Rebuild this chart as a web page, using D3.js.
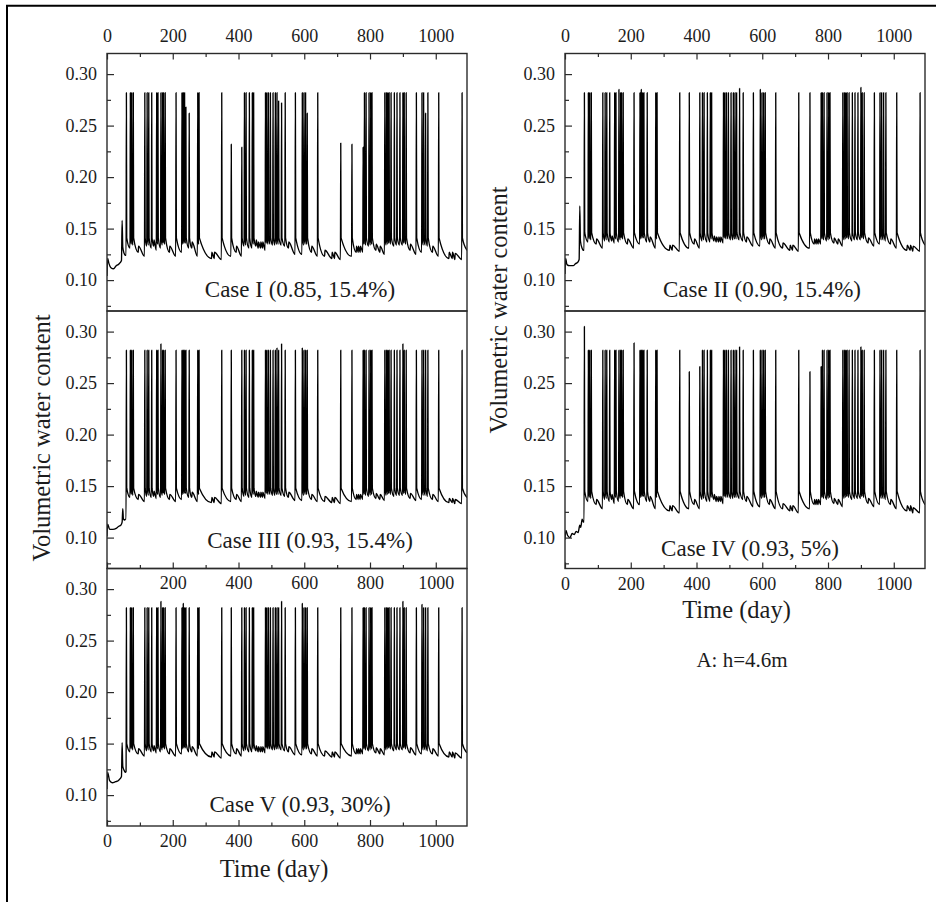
<!DOCTYPE html>
<html>
<head>
<meta charset="utf-8">
<script src="https://cdn.jsdelivr.net/npm/d3@7"></script>
<style>
  body { margin: 0; background: #fff; }
  svg { display: block; font-family: "Liberation Serif", "Times New Roman", Times, serif; }
</style>
</head>
<body>
<svg id="fig" width="936" height="902"></svg>
<script>
// ---- axis ticks -------------------------------------------------------
const xTicks = [0, 200, 400, 600, 800, 1000];
const xMinor = [100, 300, 500, 700, 900];
const xInner = [200, 400, 600, 800, 1000];
const yTicks = [0.10, 0.15, 0.20, 0.25, 0.30];
const yMinor = [0.075, 0.125, 0.175, 0.225, 0.275];

// ---- rainfall-driven response events (day of each wetting event) ------
const eventDays = [
  58, 70, 74, 79, 95, 114, 121, 126, 135, 142,
  150, 154, 163, 168, 171, 176, 190, 209, 227, 231,
  235, 239, 249, 258, 275, 279, 318, 326, 348, 377,
  393, 409, 417, 422, 432, 441, 445, 453, 460, 467,
  473, 481, 485, 490, 496, 504, 511, 516, 521, 530,
  541, 552, 572, 593, 598, 603, 608, 622, 640, 662,
  684, 692, 710, 744, 758, 764, 770, 778, 782, 787,
  796, 801, 805, 818, 830, 844, 849, 853, 857, 863,
  873, 881, 890, 899, 903, 909, 922, 940, 957, 962,
  968, 975, 990, 1008, 1040, 1050, 1058, 1079
];

// ---- Case I (0.85, 15.4%) ---------------------------------------------
const leadI = [[0,0.104],[2,0.121],[6,0.116],[12,0.112],[20,0.111],[28,0.114],[34,0.115],[40,0.117],[44,0.119],[46,0.158],[48,0.132],[52,0.126],[56,0.124]];
const troughI = [
  .124,.131,.135,.134,.127,.123,.133,.134,.131,.133,
  .129,.135,.131,.134,.136,.135,.127,.123,.127,.135,
  .136,.136,.131,.131,.123,.135,.121,.121,.120,.123,
  .127,.123,.133,.134,.131,.131,.135,.133,.131,.131,
  .131,.129,.136,.135,.135,.134,.134,.135,.135,.134,
  .133,.131,.125,.125,.134,.135,.135,.127,.123,.123,
  .121,.121,.120,.123,.127,.127,.127,.127,.135,.134,
  .133,.134,.135,.129,.127,.125,.134,.135,.136,.135,
  .133,.134,.134,.134,.136,.135,.129,.125,.127,.134,
  .134,.133,.127,.123,.121,.121,.120,.120
];
const peakI = [
  .282,.282,.282,.282,.133,.282,.282,.282,.282,.139,
  .282,.282,.282,.282,.282,.282,.133,.282,.282,.282,
  .282,.268,.262,.137,.282,.282,.127,.127,.282,.232,
  .133,.229,.282,.282,.282,.282,.282,.139,.137,.137,
  .137,.282,.282,.282,.282,.282,.282,.282,.274,.272,
  .282,.137,.282,.282,.282,.282,.262,.133,.282,.129,
  .127,.127,.233,.232,.133,.133,.133,.229,.282,.282,
  .282,.282,.282,.135,.133,.282,.282,.282,.282,.282,
  .282,.282,.282,.282,.282,.282,.135,.282,.282,.282,
  .262,.282,.133,.282,.127,.127,.126,.282
];
const shoulderI = 0.141;
const tailI = [1095, 0.129];

// ---- Case II (0.90, 15.4%) --------------------------------------------
const leadII = [[0,0.106],[2,0.121],[6,0.115],[14,0.114],[25,0.114],[32,0.116],[38,0.117],[43,0.120],[45,0.172],[47,0.138],[52,0.131],[56,0.129]];
const troughII = [
  .129,.137,.140,.139,.135,.131,.138,.139,.137,.138,
  .136,.140,.137,.139,.141,.140,.135,.131,.135,.140,
  .141,.141,.137,.137,.131,.140,.129,.129,.128,.131,
  .135,.131,.138,.139,.137,.137,.140,.138,.137,.137,
  .137,.136,.141,.140,.140,.139,.139,.140,.140,.139,
  .138,.137,.133,.133,.139,.140,.140,.135,.131,.131,
  .129,.129,.128,.131,.135,.135,.135,.135,.140,.139,
  .138,.139,.140,.136,.135,.133,.139,.140,.141,.140,
  .138,.139,.139,.139,.141,.140,.136,.133,.135,.139,
  .139,.138,.135,.131,.129,.129,.128,.128
];
const peakII = [
  .282,.282,.282,.282,.140,.282,.282,.282,.282,.143,
  .282,.282,.285,.282,.282,.282,.140,.282,.282,.285,
  .282,.282,.282,.142,.282,.282,.134,.134,.282,.282,
  .140,.282,.282,.282,.282,.282,.282,.143,.142,.142,
  .142,.282,.282,.282,.282,.282,.282,.282,.282,.286,
  .282,.142,.282,.285,.282,.282,.282,.140,.282,.136,
  .134,.134,.282,.282,.140,.140,.140,.282,.282,.282,
  .282,.282,.282,.141,.140,.282,.282,.282,.282,.282,
  .282,.282,.282,.287,.282,.282,.141,.282,.282,.282,
  .282,.282,.140,.282,.134,.134,.133,.282
];
const shoulderII = 0.146;
const tailII = [1095, 0.134];

// ---- Case III (0.93, 15.4%) -------------------------------------------
const leadIII = [[0,0.101],[2,0.113],[8,0.108],[18,0.108],[28,0.109],[36,0.111],[42,0.112],[46,0.115],[48,0.128],[50,0.118],[54,0.117],[56,0.118]];
const troughIII = [
  .118,.139,.142,.141,.137,.135,.140,.141,.139,.140,
  .138,.142,.139,.141,.143,.142,.137,.135,.137,.142,
  .143,.143,.139,.139,.135,.142,.134,.134,.133,.135,
  .137,.135,.140,.141,.139,.139,.142,.140,.139,.139,
  .139,.138,.143,.142,.142,.141,.141,.142,.142,.141,
  .140,.139,.136,.136,.141,.142,.142,.137,.135,.135,
  .134,.134,.133,.135,.137,.137,.137,.137,.142,.141,
  .140,.141,.142,.138,.137,.136,.141,.142,.143,.142,
  .140,.141,.141,.141,.143,.142,.138,.136,.137,.141,
  .141,.140,.137,.135,.134,.134,.133,.133
];
const peakIII = [
  .282,.282,.282,.282,.142,.282,.282,.282,.282,.145,
  .282,.282,.288,.282,.282,.282,.142,.282,.282,.282,
  .282,.282,.282,.144,.282,.282,.139,.139,.282,.282,
  .142,.282,.282,.282,.282,.282,.282,.145,.144,.144,
  .144,.282,.282,.282,.282,.282,.282,.284,.282,.288,
  .282,.144,.282,.284,.282,.282,.282,.142,.282,.140,
  .139,.139,.282,.282,.142,.142,.142,.282,.282,.282,
  .282,.282,.282,.143,.142,.282,.282,.282,.282,.282,
  .282,.282,.282,.288,.282,.282,.143,.282,.282,.282,
  .282,.282,.142,.282,.138,.138,.137,.282
];
const shoulderIII = 0.148;
const tailIII = [1095, 0.139];

// ---- Case IV (0.93, 5%) -----------------------------------------------
const leadIV = [[0,0.098],[3,0.107],[8,0.102],[15,0.100],[22,0.104],[28,0.103],[34,0.106],[40,0.105],[45,0.112],[48,0.110],[52,0.118],[56,0.115]];
const troughIV = [
  .115,.135,.139,.138,.132,.128,.137,.138,.135,.137,
  .133,.139,.135,.138,.140,.139,.132,.128,.132,.139,
  .140,.140,.135,.135,.128,.139,.126,.126,.124,.128,
  .132,.128,.137,.138,.135,.135,.139,.137,.135,.135,
  .135,.133,.140,.139,.139,.138,.138,.139,.139,.138,
  .137,.135,.130,.130,.138,.139,.139,.132,.128,.128,
  .126,.126,.124,.128,.132,.132,.132,.132,.139,.138,
  .137,.138,.139,.133,.132,.130,.138,.139,.140,.139,
  .137,.138,.138,.138,.140,.139,.133,.130,.132,.138,
  .138,.137,.132,.128,.126,.126,.124,.124
];
const peakIV = [
  .305,.282,.282,.282,.137,.282,.282,.282,.282,.142,
  .282,.282,.282,.282,.282,.282,.137,.289,.282,.282,
  .282,.282,.282,.140,.282,.282,.131,.131,.282,.261,
  .137,.266,.282,.282,.282,.282,.282,.142,.140,.140,
  .140,.282,.282,.282,.282,.282,.282,.282,.282,.285,
  .282,.140,.282,.282,.282,.282,.282,.137,.282,.133,
  .131,.131,.282,.261,.137,.137,.137,.266,.282,.282,
  .282,.282,.282,.138,.137,.282,.282,.282,.282,.282,
  .282,.282,.282,.285,.282,.282,.138,.282,.282,.282,
  .282,.282,.137,.282,.131,.131,.129,.282
];
const shoulderIV = 0.145;
const tailIV = [1095, 0.132];

// ---- Case V (0.93, 30%) -----------------------------------------------
const leadV = [[0,0.106],[2,0.122],[8,0.114],[16,0.112],[26,0.113],[34,0.114],[40,0.116],[44,0.118],[46,0.151],[48,0.128],[52,0.124],[56,0.122]];
const troughV = [
  .123,.142,.145,.144,.140,.138,.143,.144,.142,.143,
  .141,.145,.142,.144,.146,.145,.140,.138,.140,.145,
  .146,.146,.142,.142,.138,.145,.137,.137,.136,.138,
  .140,.138,.143,.144,.142,.142,.145,.143,.142,.142,
  .142,.141,.146,.145,.145,.144,.144,.145,.145,.144,
  .143,.142,.139,.139,.144,.145,.145,.140,.138,.138,
  .137,.137,.136,.138,.140,.140,.140,.140,.145,.144,
  .143,.144,.145,.141,.140,.139,.144,.145,.146,.145,
  .143,.144,.144,.144,.146,.145,.141,.139,.140,.144,
  .144,.143,.140,.138,.137,.137,.136,.136
];
const peakV = [
  .282,.282,.282,.282,.145,.282,.282,.282,.282,.148,
  .282,.282,.288,.282,.282,.282,.145,.282,.282,.286,
  .282,.282,.282,.147,.282,.282,.142,.142,.282,.282,
  .145,.282,.282,.282,.282,.282,.282,.148,.147,.147,
  .147,.282,.282,.282,.282,.282,.282,.282,.282,.288,
  .282,.147,.282,.286,.282,.282,.282,.145,.282,.143,
  .142,.142,.282,.282,.145,.145,.145,.282,.282,.282,
  .282,.282,.282,.146,.145,.282,.282,.282,.282,.282,
  .282,.282,.282,.288,.282,.282,.146,.282,.285,.282,
  .282,.282,.145,.282,.142,.142,.141,.282
];
const shoulderV = 0.150;
const tailV = [1095, 0.141];

// ---- panel table ------------------------------------------------------
const panels = [
  { title: "Case I (0.85, 15.4%)",   lead: leadI,   trough: troughI,   peak: peakI,   shoulder: shoulderI,   tail: tailI,
    x0: 107, y0: 53.5, top: "labels", bottom: "none",   lx: 300, ly: 297 },
  { title: "Case II (0.90, 15.4%)",  lead: leadII,  trough: troughII,  peak: peakII,  shoulder: shoulderII,  tail: tailII,
    x0: 565, y0: 53.5, top: "labels", bottom: "none",   lx: 762, ly: 297 },
  { title: "Case III (0.93, 15.4%)", lead: leadIII, trough: troughIII, peak: peakIII, shoulder: shoulderIII, tail: tailIII,
    x0: 107, y0: 311,  top: "none",   bottom: "ticks",  lx: 310, ly: 548 },
  { title: "Case IV (0.93, 5%)",     lead: leadIV,  trough: troughIV,  peak: peakIV,  shoulder: shoulderIV,  tail: tailIV,
    x0: 565, y0: 311,  top: "none",   bottom: "labels", lx: 750, ly: 556 },
  { title: "Case V (0.93, 30%)",     lead: leadV,   trough: troughV,   peak: peakV,   shoulder: shoulderV,   tail: tailV,
    x0: 107, y0: 568.5, top: "inner", bottom: "labels", lx: 300, ly: 811.5 }
];

// ---- drawing ----------------------------------------------------------
const FONT = '"Liberation Serif", "Times New Roman", Times, serif';
const frameColor = "#2b2b2b";
const textColor = "#1c1c1c";
const plotW = 360, plotH = 257.5;

const x = d3.scaleLinear().domain([0, 1095]).range([0, plotW]);
const y = d3.scaleLinear().domain([0.07, 0.32]).range([plotH, 0]);

const svg = d3.select("#fig");

// figure border (top and left edges)
svg.append("path")
  .attr("d", "M7,902V5.7H936")
  .attr("fill", "none").attr("stroke", "#000").attr("stroke-width", 2);

const line = d3.line()
  .x(d => x(d[0]))
  .y(d => y(d[1]))
  .curve(d3.curveMonotoneX);

function seriesPoints(p) {
  const pts = p.lead.slice();
  eventDays.forEach((d, i) => {
    pts.push([d, p.trough[i]]);
    pts.push([d + 1, p.peak[i]]);
    if (p.peak[i] > p.shoulder) pts.push([d + 2, p.shoulder]);
  });
  pts.push(p.tail);
  return pts;
}

function styleAxis(g, size) {
  g.attr("font-family", FONT).attr("font-size", size).style("color", frameColor);
  g.select(".domain").remove();
  g.selectAll(".tick line").attr("stroke-width", 1.2);
  g.selectAll(".tick text").attr("fill", textColor);
}

panels.forEach((p, k) => {
  const g = svg.append("g").attr("transform", `translate(${p.x0},${p.y0})`);

  const clipId = "clip" + k;
  g.append("clipPath").attr("id", clipId)
    .append("rect").attr("width", plotW).attr("height", plotH);

  g.append("path")
    .datum(seriesPoints(p))
    .attr("clip-path", `url(#${clipId})`)
    .attr("d", line)
    .attr("fill", "none")
    .attr("stroke", "#000")
    .attr("stroke-width", 1.35)
    .attr("stroke-linejoin", "round");

  // left axis
  g.append("g").call(d3.axisLeft(y).tickValues(yTicks).tickSize(-7).tickPadding(10).tickFormat(d3.format(".2f")))
    .call(a => styleAxis(a, 18));
  g.append("g").call(d3.axisLeft(y).tickValues(yMinor).tickSize(-4).tickFormat(""))
    .call(a => styleAxis(a, 18));

  // top axis
  if (p.top === "labels") {
    g.append("g").call(d3.axisTop(x).tickValues(xTicks).tickSize(-6).tickPadding(12).tickFormat(d3.format("d")))
      .call(a => styleAxis(a, 18));
    g.append("g").call(d3.axisTop(x).tickValues(xMinor).tickSize(-3.5).tickFormat(""))
      .call(a => styleAxis(a, 18));
  } else if (p.top === "inner") {
    g.append("g").call(d3.axisBottom(x).tickValues(xInner).tickSize(0).tickPadding(7.5).tickFormat(d3.format("d")))
      .call(a => styleAxis(a, 18));
  }

  // bottom axis
  if (p.bottom !== "none") {
    const withLabels = p.bottom === "labels";
    g.append("g").attr("transform", `translate(0,${plotH})`)
      .call(d3.axisBottom(x).tickValues(xTicks).tickSize(-6).tickPadding(withLabels ? 8.5 : 0)
        .tickFormat(withLabels ? d3.format("d") : ""))
      .call(a => styleAxis(a, 18));
    g.append("g").attr("transform", `translate(0,${plotH})`)
      .call(d3.axisBottom(x).tickValues(xMinor).tickSize(-3.5).tickFormat(""))
      .call(a => styleAxis(a, 18));
  }

  // frame
  g.append("rect")
    .attr("width", plotW).attr("height", plotH)
    .attr("fill", "none").attr("stroke", frameColor).attr("stroke-width", 1.4);

  // case label
  svg.append("text")
    .attr("x", p.lx).attr("y", p.ly)
    .attr("text-anchor", "middle")
    .attr("font-family", FONT).attr("font-size", 23)
    .attr("fill", textColor)
    .text(p.title);
});

// axis titles
function title(txt, tx, ty, rot) {
  svg.append("text")
    .attr("transform", `translate(${tx},${ty}) rotate(${rot})`)
    .attr("text-anchor", "middle")
    .attr("font-family", FONT).attr("font-size", 24.5)
    .attr("fill", textColor)
    .text(txt);
}
title("Volumetric water content", 50, 438, -90);
title("Volumetric water content", 507, 310, -90);
title("Time (day)", 274, 877, 0);
title("Time (day)", 736.5, 618, 0);

svg.append("text")
  .attr("x", 742).attr("y", 667)
  .attr("text-anchor", "middle")
  .attr("font-family", FONT).attr("font-size", 21)
  .attr("fill", textColor)
  .text("A: h=4.6m");
</script>
</body>
</html>
